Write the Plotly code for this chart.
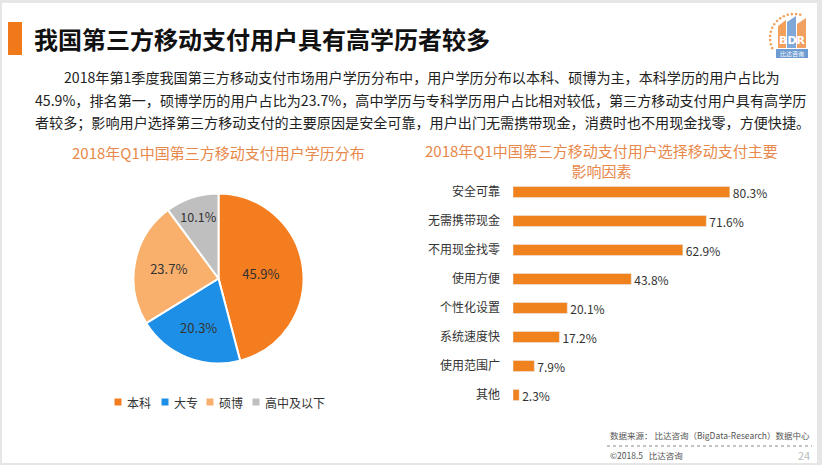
import math
import plotly.graph_objects as go

W, H = 822, 465
FONT = "Noto Sans CJK SC"

def PX(x):
    return x / W

def PY(y):
    return 1 - y / H

# ---------------- data ----------------
pie_labels = ["本科", "大专", "硕博", "高中及以下"]
pie_values = [45.9, 20.3, 23.7, 10.1]
pie_colors = ["#F47D20", "#1E8FE6", "#F8B06C", "#BFBFBF"]

bar_categories = ["安全可靠", "无需携带现金", "不用现金找零", "使用方便",
                  "个性化设置", "系统速度快", "使用范围广", "其他"]
bar_values = [80.3, 71.6, 62.9, 43.8, 20.1, 17.2, 7.9, 2.3]

title_text = "我国第三方移动支付用户具有高学历者较多"
para_lines = [
    "2018年第1季度我国第三方移动支付市场用户学历分布中，用户学历分布以本科、硕博为主，本科学历的用户占比为",
    "45.9%，排名第一，硕博学历的用户占比为23.7%，高中学历与专科学历用户占比相对较低，第三方移动支付用户具有高学历",
    "者较多；影响用户选择第三方移动支付的主要原因是安全可靠，用户出门无需携带现金，消费时也不用现金找零，方便快捷。",
]
pie_title = "2018年Q1中国第三方移动支付用户学历分布"
bar_title = "2018年Q1中国第三方移动支付用户选择移动支付主要<br>影响因素"
source_text = "数据来源： 比达咨询（BigData-Research）数据中心"
copyright_text = "©2018.5   比达咨询"
page_no = "24"

ORANGE = "#F0821E"
TITLE_ORANGE = "#E8884A"

fig = go.Figure()

# ---------------- pie ----------------
cx, cy, r = 218.5, 278.5, 85
fig.add_trace(go.Pie(
    labels=pie_labels, values=pie_values, sort=False, direction="clockwise",
    rotation=0,
    marker=dict(colors=pie_colors, line=dict(color="white", width=2)),
    texttemplate="%{value:.1f}%", textposition="inside",
    insidetextorientation="horizontal",
    textfont=dict(family=FONT, size=13, color="#333333"),
    domain=dict(x=[PX(cx - r), PX(cx + r)], y=[PY(cy + r), PY(cy - r)]),
    showlegend=False, hoverinfo="label+percent",
))

# ---------------- bars ----------------
fig.add_trace(go.Bar(
    x=bar_values, y=bar_categories, orientation="h",
    marker=dict(color=ORANGE),
    texttemplate="%{x:.1f}%", textposition="outside", cliponaxis=False,
    constraintext="none",
    textfont=dict(family=FONT, size=12, color="#333333"),
    xaxis="x", yaxis="y", showlegend=False,
))

bar_x0 = 513
px_per_pct = 2.70
bar_y_top, bar_y_bot = 177.5, 409.5

fig.update_layout(
    width=W, height=H,
    margin=dict(l=0, r=0, t=0, b=0),
    paper_bgcolor="#E6E6E6",
    plot_bgcolor="rgba(0,0,0,0)",
    font=dict(family=FONT, color="#333333"),
    bargap=0.62,
    xaxis=dict(domain=[PX(bar_x0), PX(bar_x0 + 100 * px_per_pct)], range=[0, 100],
               visible=False, fixedrange=True),
    yaxis=dict(domain=[PY(bar_y_bot), PY(bar_y_top)], autorange="reversed",
               categoryorder="array", categoryarray=bar_categories,
               showgrid=False, zeroline=False, showline=False, ticks="",
               ticklabelstandoff=12,
               tickfont=dict(family=FONT, size=12, color="#333333"),
               fixedrange=True),
)

shapes = []
# white slide area
shapes.append(dict(type="rect", xref="paper", yref="paper",
                   x0=PX(2), x1=PX(817), y0=PY(463), y1=PY(3),
                   fillcolor="white", line=dict(width=0), layer="below"))
# orange title block
shapes.append(dict(type="rect", xref="paper", yref="paper",
                   x0=PX(8), x1=PX(22), y0=PY(55), y1=PY(22),
                   fillcolor="#F07A1A", line=dict(width=0)))
# dotted footer line
shapes.append(dict(type="line", xref="paper", yref="paper",
                   x0=PX(607), x1=PX(812), y0=PY(446), y1=PY(446),
                   line=dict(color="#888888", width=1, dash="dot")))
# logo dotted arc
lcx, lcy, lr = 794, 38, 24
for k in range(14):
    a = math.radians(75 + k * 10)
    dx = lcx + lr * math.cos(a)
    dy = lcy - lr * math.sin(a)
    shapes.append(dict(type="circle", xref="paper", yref="paper",
                       x0=PX(dx - 1.3), x1=PX(dx + 1.3), y0=PY(dy + 1.3), y1=PY(dy - 1.3),
                       fillcolor="#F2A25C", line=dict(width=0)))
# logo columns
shapes.append(dict(type="path", xref="paper", yref="paper",
                   path=f"M {PX(778)},{PY(48)} L {PX(778)},{PY(26)} L {PX(786)},{PY(20)} L {PX(786)},{PY(48)} Z",
                   fillcolor="#F5A05A", line=dict(width=0)))
shapes.append(dict(type="path", xref="paper", yref="paper",
                   path=f"M {PX(787)},{PY(48)} L {PX(787)},{PY(22)} L {PX(796)},{PY(16)} L {PX(796)},{PY(48)} Z",
                   fillcolor="#7FA8D8", line=dict(width=0)))
shapes.append(dict(type="path", xref="paper", yref="paper",
                   path=f"M {PX(797)},{PY(48)} L {PX(797)},{PY(24)} L {PX(806)},{PY(18)} L {PX(806)},{PY(48)} Z",
                   fillcolor="#F0A060", line=dict(width=0)))
shapes.append(dict(type="rect", xref="paper", yref="paper",
                   x0=PX(776), x1=PX(808), y0=PY(58), y1=PY(49),
                   fillcolor="#6E9BD0", line=dict(width=0)))
# legend squares
legend_sq_x = [118, 165, 210, 256]
legend_y = 402
for xs, col in zip(legend_sq_x, pie_colors):
    shapes.append(dict(type="rect", xref="paper", yref="paper",
                       x0=PX(xs - 3.5), x1=PX(xs + 3.5), y0=PY(legend_y + 3.5), y1=PY(legend_y - 3.5),
                       fillcolor=col, line=dict(width=0)))

ann = []
ann.append(dict(text=f"<b>{title_text}</b>", x=PX(32), y=PY(38), xref="paper", yref="paper",
                xanchor="left", yanchor="middle", showarrow=False,
                font=dict(family=FONT, size=24, color="#111111")))
para_pos = [(62, 77), (33, 100), (33, 122)]
for (px_, py_), line in zip(para_pos, para_lines):
    ann.append(dict(text=line, x=PX(px_), y=PY(py_), xref="paper", yref="paper",
                    xanchor="left", yanchor="middle", showarrow=False,
                    font=dict(family=FONT, size=14.1, color="#222222")))
ann.append(dict(text=pie_title, x=PX(218), y=PY(152), xref="paper", yref="paper",
                xanchor="center", yanchor="middle", showarrow=False,
                font=dict(family=FONT, size=15, color=TITLE_ORANGE)))
ann.append(dict(text=bar_title, x=PX(601), y=PY(161), xref="paper", yref="paper",
                xanchor="center", yanchor="middle", showarrow=False,
                font=dict(family=FONT, size=15, color=TITLE_ORANGE)))
for xs, lab in zip(legend_sq_x, pie_labels):
    ann.append(dict(text=lab, x=PX(xs + 7), y=PY(legend_y), xref="paper", yref="paper",
                    xanchor="left", yanchor="middle", showarrow=False,
                    font=dict(family=FONT, size=12, color="#333333")))
ann.append(dict(text=source_text, x=PX(608), y=PY(435), xref="paper", yref="paper",
                xanchor="left", yanchor="middle", showarrow=False,
                font=dict(family=FONT, size=8.5, color="#555555")))
ann.append(dict(text=copyright_text, x=PX(608), y=PY(455), xref="paper", yref="paper",
                xanchor="left", yanchor="middle", showarrow=False,
                font=dict(family=FONT, size=8.5, color="#555555")))
ann.append(dict(text=page_no, x=PX(812), y=PY(455), xref="paper", yref="paper",
                xanchor="right", yanchor="middle", showarrow=False,
                font=dict(family=FONT, size=11, color="#BBBBBB")))
ann.append(dict(text="<b>BDR</b>", x=PX(792), y=PY(41), xref="paper", yref="paper",
                xanchor="center", yanchor="middle", showarrow=False,
                font=dict(family="DejaVu Sans", size=11, color="white")))
ann.append(dict(text="比达咨询", x=PX(792), y=PY(53.5), xref="paper", yref="paper",
                xanchor="center", yanchor="middle", showarrow=False,
                font=dict(family=FONT, size=6, color="white")))

fig.update_layout(shapes=shapes, annotations=ann)

fig.write_html("out.html", config={"displayModeBar": False},
               post_script="document.body.style.margin='0px';document.body.style.overflow='hidden';")
